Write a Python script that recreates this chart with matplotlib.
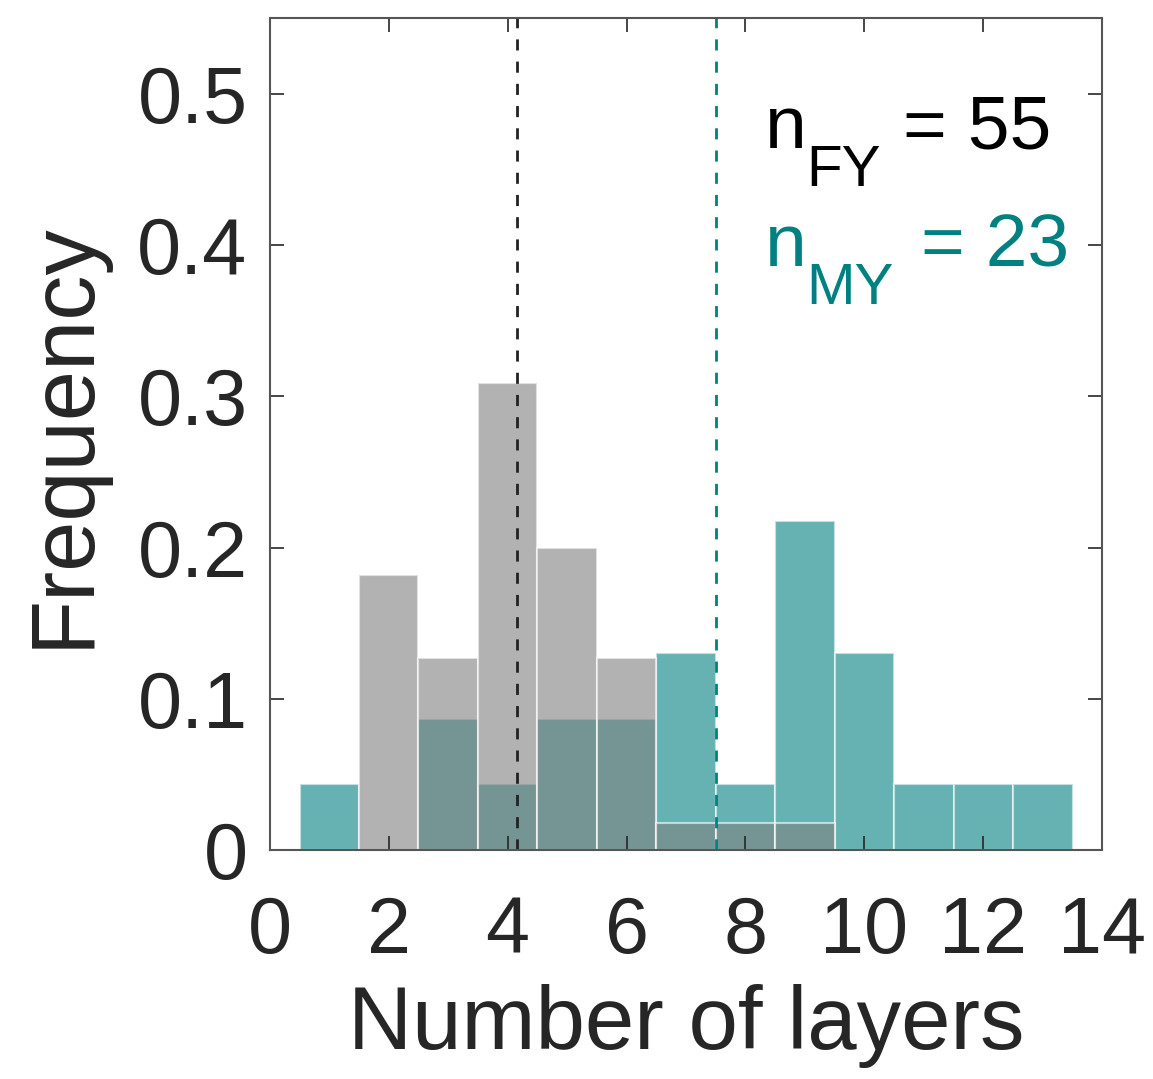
import matplotlib.pyplot as plt

plt.rcParams['font.family'] = ['Liberation Sans', 'DejaVu Sans']

# bin centres (number of layers) and counts per bin
layers = [1, 2, 3, 4, 5, 6, 7, 8, 9, 10, 11, 12, 13]
fy_counts = [0, 10, 7, 17, 11, 7, 1, 1, 1, 0, 0, 0, 0]
my_counts = [1, 0, 2, 1, 2, 2, 3, 1, 5, 3, 1, 1, 1]
n_fy = 55
n_my = 23
fy_mean = 4.15
my_mean = 7.5

fy_freq = [c / n_fy for c in fy_counts]
my_freq = [c / n_my for c in my_counts]

teal = '#008080'
grey = '#808080'
dark = '#262626'

fig = plt.figure(figsize=(11.53, 10.79), dpi=100)
ax = fig.add_axes([0.234, 0.212, 0.722, 0.771])

ax.bar(layers, my_freq, width=1, color=teal, alpha=0.6, edgecolor='white', linewidth=1.5)
ax.bar(layers, fy_freq, width=1, color=grey, alpha=0.6, edgecolor='white', linewidth=1.5)

ax.axvline(fy_mean, color='#222222', linestyle=(0, (4, 4)), linewidth=2)
ax.axvline(my_mean, color=teal, linestyle=(0, (4, 4)), linewidth=2)

# sample sizes, built from pieces so the subscripts can be larger
ax.text(8.33, 0.464, 'n', fontsize=54, color='black')
ax.text(9.03, 0.439, 'FY', fontsize=42, color='black')
ax.text(10.65, 0.464, '= %d' % n_fy, fontsize=54, color='black')
ax.text(8.33, 0.386, 'n', fontsize=54, color=teal)
ax.text(9.03, 0.361, 'MY', fontsize=42, color=teal)
ax.text(10.95, 0.386, '= %d' % n_my, fontsize=54, color=teal)

ax.set_xlim(0, 14)
ax.set_ylim(0, 0.55)
ax.set_xticks(range(0, 15, 2))
ax.set_yticks([0, 0.1, 0.2, 0.3, 0.4, 0.5])
ax.set_yticklabels(['0', '0.1', '0.2', '0.3', '0.4', '0.5'])
ax.tick_params(direction='in', length=10, width=1.2, labelsize=57, colors=dark,
               top=True, right=True)
ax.tick_params(axis='x', pad=32)
ax.tick_params(axis='y', pad=16)
for s in ax.spines.values():
    s.set_color('#555555')
    s.set_linewidth(1.5)

ax.set_xlabel('Number of layers', fontsize=64, color=dark, labelpad=10)
ax.set_ylabel('Frequency', fontsize=65, color=dark, labelpad=22)

fig.savefig('out.png', dpi=100)
